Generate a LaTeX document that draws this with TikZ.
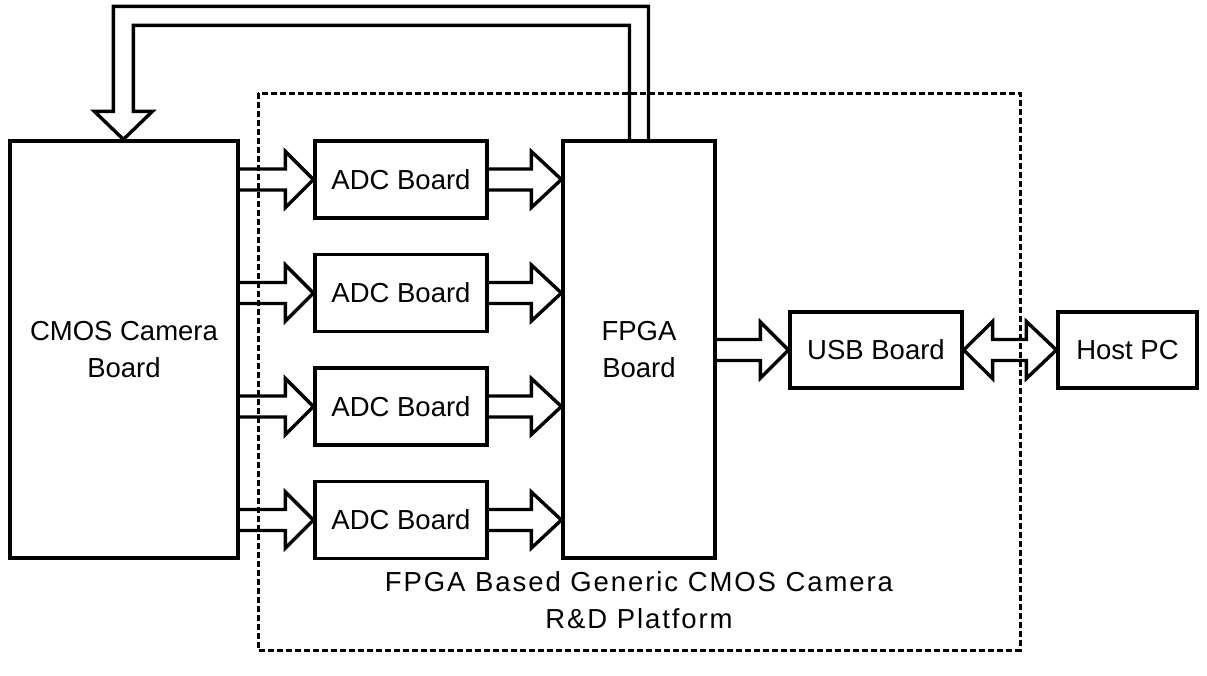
\documentclass[tikz,border=0pt]{standalone}
\usepackage{fontspec}
\setmainfont{Liberation Sans}
\usetikzlibrary{calc}
\begin{document}
\begin{tikzpicture}[x=1pt,y=-1pt,
  box/.style={draw,line width=3.2pt,rectangle,inner sep=0pt,font=\fontsize{27.5}{37}\selectfont,align=center},
  arr/.style={draw,line width=3.4pt,line join=miter},
  region/.style={draw,line width=3pt,dash pattern=on 6pt off 3pt}]
\useasboundingbox (0,0) rectangle (1207,675);
\draw[region] (258,93) rectangle (1020,650);
\node[box,minimum width=228pt,minimum height=417pt] (cmos) at (124,349.5) {CMOS Camera\\Board};
\node[box,minimum width=172pt,minimum height=77pt] (adc1) at (401,179.5) {ADC Board};
\node[box,minimum width=172pt,minimum height=77pt] (adc2) at (401,293) {ADC Board};
\node[box,minimum width=172pt,minimum height=77pt] (adc3) at (401,406.5) {ADC Board};
\node[box,minimum width=172pt,minimum height=77pt] (adc4) at (401,520) {ADC Board};
\node[box,minimum width=152pt,minimum height=417pt] (fpga) at (639,349.5) {FPGA\\Board};
\node[box,minimum width=172pt,minimum height=76pt] (usb) at (876,350) {USB Board};
\node[box,minimum width=139pt,minimum height=76pt] (host) at (1127.5,350) {Host PC};
\node[font=\fontsize{27.5}{37}\selectfont\addfontfeatures{LetterSpace=7},align=center] (cap) at (639,600) {FPGA Based Generic CMOS Camera\\R\&D Platform};
% right block arrows
\foreach \a in {adc1,adc2,adc3,adc4}{
  \draw[arr] ($(cmos.east |- \a.west)+(0,-10.5)$) -- ($(\a.west)+(-28,-10.5)$) -- ($(\a.west)+(-28,-28)$) -- (\a.west) -- ($(\a.west)+(-28,28)$) -- ($(\a.west)+(-28,10.5)$) -- ($(cmos.east |- \a.west)+(0,10.5)$);
  \draw[arr] ($(\a.east)+(0,-10.5)$) -- ($(fpga.west |- \a.east)+(-30,-10.5)$) -- ($(fpga.west |- \a.east)+(-30,-28)$) -- (fpga.west |- \a.east) -- ($(fpga.west |- \a.east)+(-30,28)$) -- ($(fpga.west |- \a.east)+(-30,10.5)$) -- ($(\a.east)+(0,10.5)$);
}
\draw[arr] ($(fpga.east |- usb.west)+(0,-10.5)$) -- ($(usb.west)+(-28,-10.5)$) -- ($(usb.west)+(-28,-28)$) -- (usb.west) -- ($(usb.west)+(-28,28)$) -- ($(usb.west)+(-28,10.5)$) -- ($(fpga.east |- usb.west)+(0,10.5)$);
% double arrow
\draw[arr] (usb.east) -- ($(usb.east)+(29,-28.5)$) -- ($(usb.east)+(29,-10.5)$) -- ($(host.west)+(-30,-10.5)$) -- ($(host.west)+(-30,-28.5)$) -- (host.west) -- ($(host.west)+(-30,28.5)$) -- ($(host.west)+(-30,10.5)$) -- ($(usb.east)+(29,10.5)$) -- ($(usb.east)+(29,28.5)$) -- cycle;
% feedback arrow
\coordinate (tip) at ($(cmos.north west)+(115,0)$);
\draw[arr] ($(fpga.north)+(9.5,0)$) -- ($(fpga.north)+(9.5,-133)$) -- ($(tip)+(-10,-133)$) -- ($(tip)+(-10,-28)$) -- ($(tip)+(-29,-28)$) -- (tip) -- ($(tip)+(29,-28)$) -- ($(tip)+(10,-28)$) -- ($(tip)+(10,-114)$) -- ($(fpga.north)+(-9.5,-114)$) -- ($(fpga.north)+(-9.5,0)$);
\end{tikzpicture}
\end{document}
